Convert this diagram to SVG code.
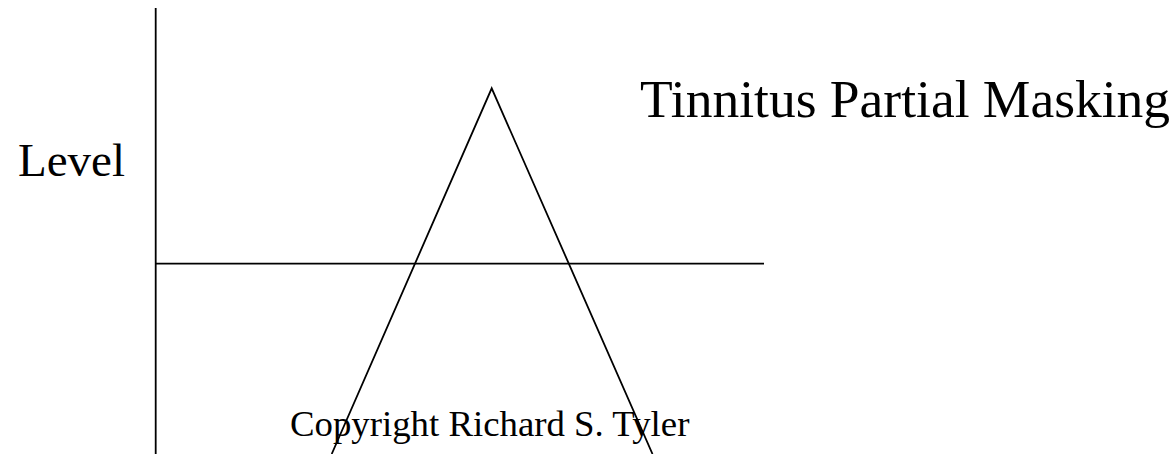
<svg xmlns="http://www.w3.org/2000/svg" width="1175" height="454" viewBox="0 0 1175 454">
<style>
.t{font-family:"Liberation Serif","Times New Roman",serif;fill:#000}
.ln{stroke:#000;stroke-width:1.8;fill:none}
</style>
<rect width="1175" height="454" fill="#fff"/>
<g id="connectors">
<line class="ln" x1="155.7" y1="8" x2="155.7" y2="454"/>
<line class="ln" x1="155.7" y1="263.7" x2="764" y2="263.7"/>
<polyline class="ln" points="331.7,454 491.7,88.3 652.5,454"/>
</g>
<g id="level"><text class="t" x="18" y="176" font-size="47">Level</text></g>
<g id="title"><text class="t" x="640" y="117" font-size="53.5">Tinnitus Partial Masking</text></g>
<g id="copyright"><text class="t" x="290" y="436" font-size="36.8">Copyright Richard S. Tyler</text></g>
</svg>
